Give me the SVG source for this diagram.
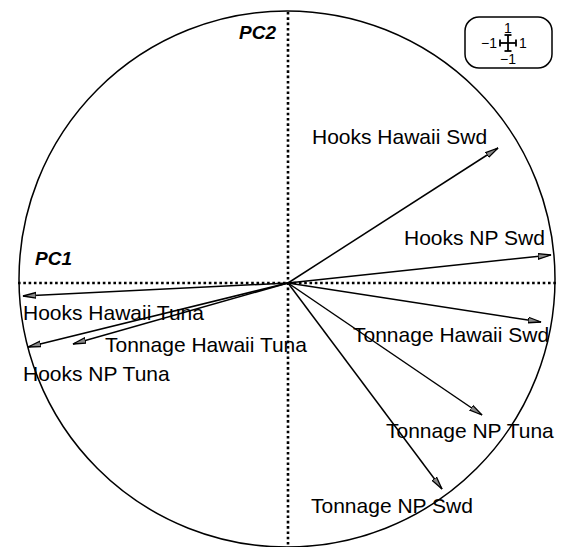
<svg xmlns="http://www.w3.org/2000/svg" width="563" height="547" viewBox="0 0 563 547">
<defs>
<style>
.lbl{font-family:"Liberation Sans",Arial,sans-serif;font-size:21px;fill:#000}
.ax{font-family:"Liberation Sans",Arial,sans-serif;font-size:19px;font-weight:bold;font-style:italic;fill:#000}
.leg{font-family:"Liberation Sans",Arial,sans-serif;font-size:14px;fill:#000}
.dot{stroke:#000;stroke-width:2.6;stroke-dasharray:2.6 2.7;fill:none}
.arr{stroke:#000;stroke-width:1.5;fill:none;marker-end:url(#ah)}
</style>
<marker id="ah" viewBox="0 0 14 8" refX="13" refY="4" markerWidth="14" markerHeight="8" markerUnits="userSpaceOnUse" orient="auto">
<path d="M0,1.2 L13,4 L0,6.8 Z" fill="#888" stroke="#000" stroke-width="1.3"/>
</marker>
</defs>
<rect width="563" height="547" fill="#fff"/>
<circle cx="287" cy="279" r="268" fill="none" stroke="#000" stroke-width="1.5"/>
<g id="axes">
<line class="dot" x1="18" y1="283" x2="557" y2="283"/>
<line class="dot" x1="288" y1="12" x2="288" y2="547"/>
<text class="ax" x="35" y="265">PC1</text>
<text class="ax" x="239" y="39">PC2</text>
</g>
<g id="connectors">
<line class="arr" x1="288" y1="283" x2="498" y2="148"/>
<line class="arr" x1="288" y1="283" x2="551" y2="255"/>
<line class="arr" x1="288" y1="283" x2="541" y2="322"/>
<line class="arr" x1="288" y1="283" x2="482" y2="415"/>
<line class="arr" x1="288" y1="283" x2="442" y2="489"/>
<line class="arr" x1="288" y1="283" x2="23" y2="296"/>
<line class="arr" x1="288" y1="283" x2="28" y2="347"/>
<line class="arr" x1="288" y1="283" x2="73" y2="344"/>
</g>
<g id="n-hooks-hawaii-swd"><text class="lbl" x="312" y="144">Hooks Hawaii Swd</text></g>
<g id="n-hooks-np-swd"><text class="lbl" x="404" y="245">Hooks NP Swd</text></g>
<g id="n-tonnage-hawaii-swd"><text class="lbl" x="353" y="342">Tonnage Hawaii Swd</text></g>
<g id="n-tonnage-np-tuna"><text class="lbl" x="386" y="438">Tonnage NP Tuna</text></g>
<g id="n-tonnage-np-swd"><text class="lbl" x="311" y="513">Tonnage NP Swd</text></g>
<g id="n-hooks-hawaii-tuna"><text class="lbl" x="23" y="320">Hooks Hawaii Tuna</text></g>
<g id="n-tonnage-hawaii-tuna"><text class="lbl" x="105" y="352">Tonnage Hawaii Tuna</text></g>
<g id="n-hooks-np-tuna"><text class="lbl" x="23" y="381">Hooks NP Tuna</text></g>
<g id="legend">
<rect x="465" y="17" width="87" height="51" rx="14" ry="14" fill="#fff" stroke="#000" stroke-width="1.5"/>
<text class="leg" x="508" y="33" text-anchor="middle">1</text>
<text class="leg" x="497" y="48" text-anchor="end">−1</text>
<text class="leg" x="519" y="48">1</text>
<text class="leg" x="508" y="64" text-anchor="middle">−1</text>
<g stroke="#000" stroke-width="1.8" fill="none">
<line x1="500" y1="43" x2="516" y2="43"/>
<line x1="500" y1="39.5" x2="500" y2="46.5"/>
<line x1="516" y1="39.5" x2="516" y2="46.5"/>
<line x1="508" y1="35" x2="508" y2="51"/>
<line x1="504.5" y1="35" x2="511.5" y2="35"/>
<line x1="504.5" y1="51" x2="511.5" y2="51"/>
</g>
</g>
</svg>
